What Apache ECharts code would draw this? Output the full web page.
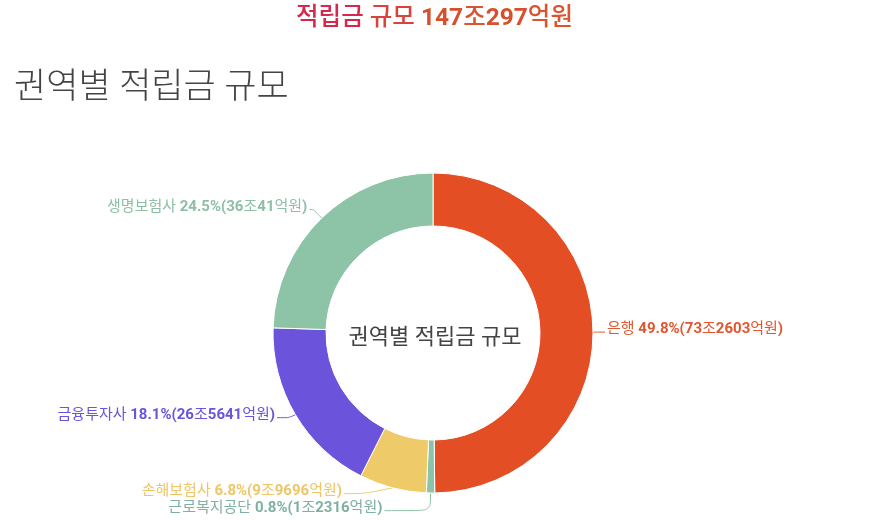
<!DOCTYPE html>
<html><head><meta charset="utf-8">
<script src="https://cdn.jsdelivr.net/npm/echarts@6/dist/echarts.min.js"></script>
<style>html,body{margin:0;padding:0;background:#fff}#c{width:869px;height:520px}</style>
</head><body><div id="c"></div>
<script>
const categories = ['은행', '근로복지공단', '손해보험사', '금융투자사', '생명보험사'];
const values = [732603, 12316, 99696, 265641, 360041]; // 억원
const colors = ['#e34e24', '#8dc3a7', '#efca68', '#6c53dc', '#8dc3a7'];
const labelColors = ['#e0572f', '#7fb0a0', '#efc566', '#6c53dc', '#8dbfa5'];
const totalText = ['147', '297'];
const mainTitle = '권역별 적립금 규모';

const FF = "Roboto, 'Noto Sans CJK KR', sans-serif";
const lineLens = [[4,8],[4,46],[6,20],[6,12],[12,4]];
function fmt(v){ const jo = Math.floor(v/10000), eok = v%10000; return {jo, eok}; }

const chart = echarts.init(document.getElementById('c'), null, {renderer:'canvas'});
chart.setOption({
  animation:false,
  title:[
    {text:'{a|적립금 }{b|규모 }{n|'+totalText[0]+'}{u|조}{n|'+totalText[1]+'}{u|억원}', left:'center', top:2,
     textStyle:{fontWeight:'normal',rich:{
       a:{fontSize:24.5,color:'#d6274d',fontWeight:500,fontFamily:FF},
       b:{fontSize:24.5,color:'#d8433c',fontWeight:500,fontFamily:FF},
       n:{fontSize:24.5,color:'#d84f2c',fontWeight:'bold',fontFamily:FF},
       u:{fontSize:24.5,color:'#d9552f',fontWeight:500,fontFamily:FF}}}},
    {text:mainTitle, left:9, top:67, textStyle:{fontSize:35,color:'#444',fontWeight:300,fontFamily:FF}},
    {text:mainTitle, left:430, top:333, textAlign:'center', textVerticalAlign:'middle',
     textStyle:{fontSize:22,color:'#444',fontWeight:'normal',fontFamily:FF}}
  ],
  series:[{
    type:'pie', center:[433,333], radius:[107,160], startAngle:90, clockwise:true,
    percentPrecision:1,
    itemStyle:{borderColor:'#fff',borderWidth:1},
    labelLine:{length:6,length2:8,smooth:true,lineStyle:{width:1}},
    label:{fontSize:15, fontFamily:FF, distanceToLabelLine:2, padding:[0,0,5,0],
      formatter:function(p){
        const f = fmt(p.value);
        return '{n|'+p.name+' }{b|'+p.percent.toFixed(1)+'%('+f.jo+'}{n|조}{b|'+f.eok+'}{n|억원}{b|)}';
      },
      rich:{n:{fontSize:15,fontFamily:FF},b:{fontSize:15,fontWeight:'bold',fontFamily:FF}}
    },
    data: categories.map((c,i)=>({name:c,value:values[i],itemStyle:{color:colors[i]},
      label:{color:labelColors[i]},
      labelLine:{length:lineLens[i][0],length2:lineLens[i][1],lineStyle:{color:colors[i]}}}))
  }]
});
</script></body></html>
